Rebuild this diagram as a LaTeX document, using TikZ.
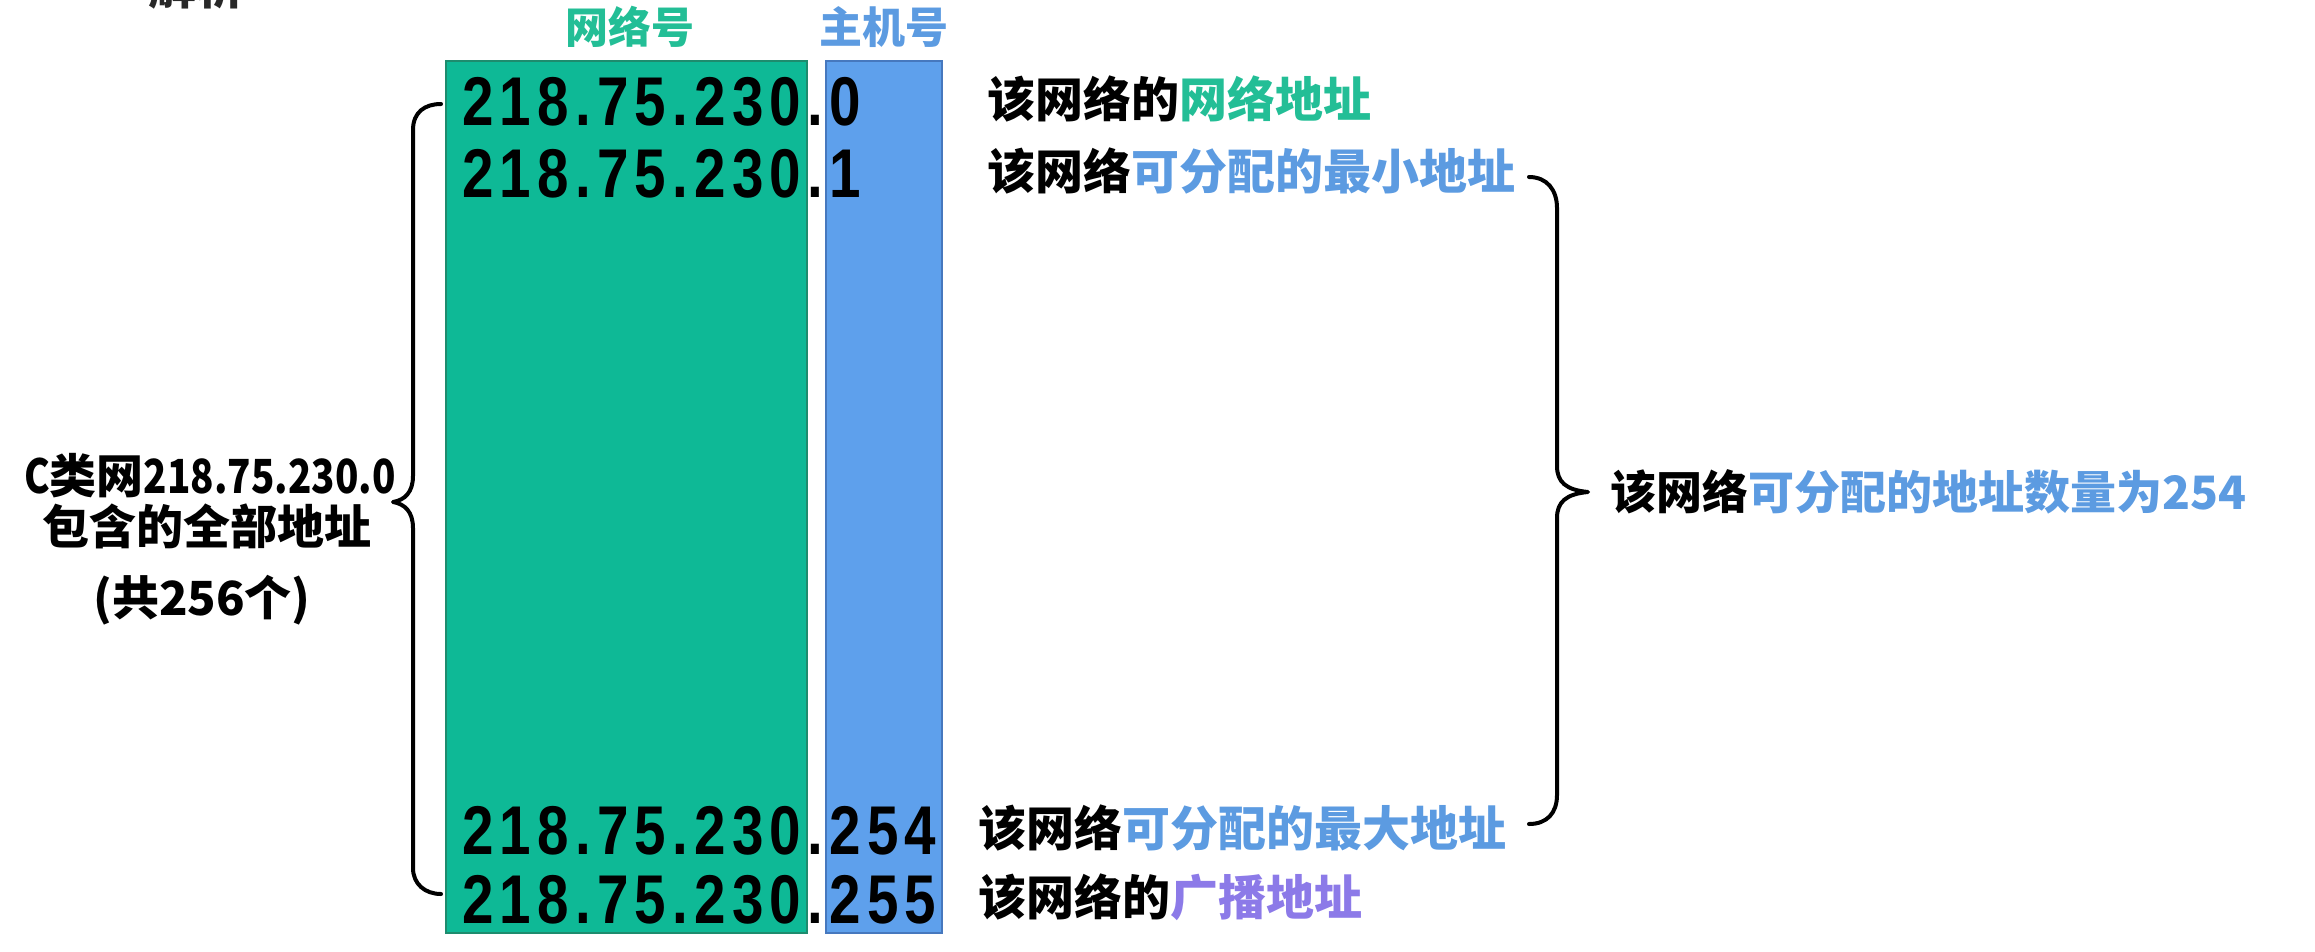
\documentclass[tikz,border=0pt]{standalone}
\usepackage{fontspec}
\newfontfamily\cjk{Noto Sans CJK SC}
\newfontfamily\ipf{Liberation Sans}[FakeStretch=0.82, LetterSpace=9]
\definecolor{netgreen}{RGB}{14,185,150}
\definecolor{netgreenline}{RGB}{30,140,110}
\definecolor{hostblue}{RGB}{94,160,236}
\definecolor{hostblueline}{RGB}{70,120,190}
\definecolor{txtgreen}{RGB}{35,190,150}
\definecolor{txtblue}{RGB}{92,155,225}
\definecolor{txtpurple}{RGB}{140,122,232}
\definecolor{txtgray}{RGB}{40,40,40}
\newcommand{\narrowpart}[1]{\scalebox{0.82}[1]{#1}}
\tikzset{
  netbox/.style={draw=netgreenline, fill=netgreen, line width=1.5pt, minimum width=361pt, minimum height=872pt, inner sep=0pt},
  hostbox/.style={draw=hostblueline, fill=hostblue, line width=1.5pt, minimum width=116pt, minimum height=872pt, inner sep=0pt},
  ipnum/.style={font=\ipf\bfseries\fontsize{69}{80}\selectfont, anchor=base west, inner sep=0pt},
  header/.style={font=\cjk\bfseries\fontsize{43}{50}\selectfont, anchor=center, inner sep=0pt},
  lab/.style={font=\cjk\bfseries\fontsize{48}{56}\selectfont, anchor=base west, inner sep=0pt},
  leftlab/.style={font=\cjk\bfseries\fontsize{47}{56}\selectfont, anchor=base, inner sep=0pt},
  bracepath/.style={draw=black, line width=4pt, line cap=round, line join=round}
}
\begin{document}
\begin{tikzpicture}[x=1pt,y=-1pt]
\useasboundingbox (0,0) rectangle (2315,951);
\begin{scope}
\clip (0,0) rectangle (2315,951);
\node[lab, anchor=base, text=txtgray] (frag) at (196,4) {解析};
\end{scope}
% boxes
\node[netbox] (net) at (626.5,497) {};
\node[hostbox] (host) at (884,497) {};
% headers
\node[header, text=txtgreen] (hnet) at (630,27) {网络号};
\node[header, text=txtblue] (hhost) at (884,27) {主机号};
% rows
\node[ipnum] (r0) at (462,125) {218.75.230.0};
\node[ipnum] (r1) at (462,197) {218.75.230.1};
\node[ipnum] (r254) at (462,854) {218.75.230.254};
\node[ipnum] (r255) at (462,923) {218.75.230.255};
% right labels
\node[lab] (l0) at (987,117) {该网络的\textcolor{txtgreen}{网络地址}};
\node[lab] (l1) at (987,189) {该网络\textcolor{txtblue}{可分配的最小地址}};
\node[lab] (l254) at (978,846) {该网络\textcolor{txtblue}{可分配的最大地址}};
\node[lab] (l255) at (978,915) {该网络的\textcolor{txtpurple}{广播地址}};
% left text
\node[leftlab] (t1) at (210,493) {\narrowpart{C}类网\narrowpart{218.75.230.0}};
\node[leftlab] (t2) at (207,544) {包含的全部地址};
\node[leftlab] (t3) at (202,615) {(共256个)};
% right text
\node[lab, font=\cjk\bfseries\fontsize{46}{56}\selectfont] (tr) at (1610,509) {该网络\textcolor{txtblue}{可分配的地址数量为254}};
% left brace
\draw[bracepath] (441,104) .. controls (425,104) and (413,112) .. (413,130) -- (413,476)
  .. controls (413,492) and (405,500) .. (393,502)
  .. controls (405,504) and (413,512) .. (413,528) -- (413,868)
  .. controls (413,884) and (425,894) .. (441,894);
% right brace
\draw[bracepath] (1529,177) .. controls (1547,177) and (1557,190) .. (1557,208) -- (1557,466)
  .. controls (1557,482) and (1566,490) .. (1588,492)
  .. controls (1566,494) and (1557,502) .. (1557,518) -- (1557,795)
  .. controls (1557,813) and (1547,824) .. (1529,824);
\end{tikzpicture}
\end{document}
